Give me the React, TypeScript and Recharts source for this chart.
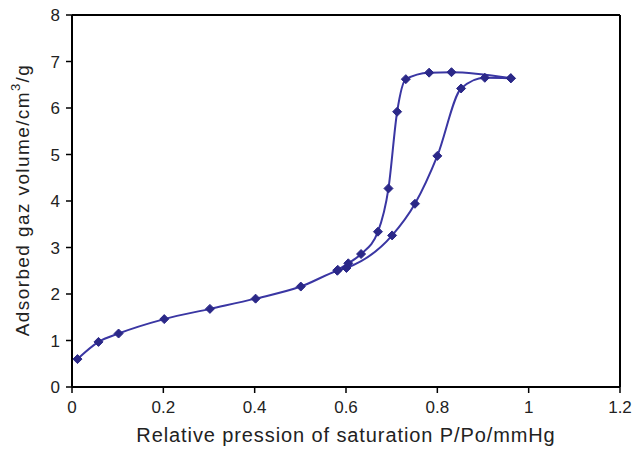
import React from 'react';
import { LineChart, Line, XAxis, YAxis, ReferenceLine } from 'recharts';

const adsorptionP = [0.012, 0.058, 0.102, 0.202, 0.302, 0.402, 0.501, 0.581, 0.601, 0.701, 0.751, 0.8, 0.852, 0.904, 0.961];
const adsorptionV = [0.6, 0.97, 1.15, 1.46, 1.68, 1.9, 2.16, 2.5, 2.56, 3.26, 3.94, 4.97, 6.42, 6.65, 6.64];
const desorptionP = [0.582, 0.605, 0.633, 0.67, 0.693, 0.712, 0.731, 0.782, 0.831, 0.961];
const desorptionV = [2.52, 2.66, 2.86, 3.34, 4.27, 5.92, 6.62, 6.76, 6.77, 6.64];
const xTicks = [0, 0.2, 0.4, 0.6, 0.8, 1, 1.2];
const yTicks = [0, 1, 2, 3, 4, 5, 6, 7, 8];

const adsorption = adsorptionP.map((x, i) => ({ x, y: adsorptionV[i] }));
const desorption = desorptionP.map((x, i) => ({ x, y: desorptionV[i] }));

const LINE = '#3a36a3';
const DOT = '#2b2888';
const FONT = 'Liberation Sans, Arial, sans-serif';

const Diamond = (props: any) => {
  const { cx, cy } = props;
  if (cx == null || cy == null) return null;
  const r = 4.5;
  return (
    <polygon
      points={`${cx},${cy - r} ${cx + r},${cy} ${cx},${cy + r} ${cx - r},${cy}`}
      fill={DOT}
      stroke={DOT}
      strokeWidth={1}
    />
  );
};

const YTitle = () => (
  <text
    x={22}
    y={200}
    transform="rotate(-90 22 200)"
    textAnchor="middle"
    dominantBaseline="central"
    fontFamily={FONT}
    fontSize={19}
    letterSpacing={1.4}
    fill="#222"
  >
    Adsorbed gaz volume/cm
    <tspan dy={-7} fontSize={13}>3</tspan>
    <tspan dy={7} fontSize={19}>/g</tspan>
  </text>
);

const XTitle = () => (
  <text x={346} y={442} textAnchor="middle" fontFamily={FONT} fontSize={20} letterSpacing={0.9} fill="#222">
    Relative pression of saturation P/Po/mmHg
  </text>
);

export default function App() {
  return (
    <div style={{ position: 'absolute', left: 0, top: 0, width: 632, height: 450, background: '#fff' }}>
      <LineChart width={632} height={450} margin={{ top: 15, right: 12, bottom: 0, left: 0 }}>
        <XAxis
          xAxisId="b"
          type="number"
          dataKey="x"
          domain={[0, 1.2]}
          ticks={xTicks}
          allowDataOverflow
          height={63}
          axisLine={{ stroke: '#000', strokeWidth: 2 }}
          tickLine={{ stroke: '#000', strokeWidth: 1.5 }}
          tickSize={6}
          tickMargin={8}
          tick={{ fill: '#222', fontSize: 17, fontFamily: FONT }}
          label={{ content: () => <XTitle /> }}
        />
        <YAxis
          yAxisId="l"
          type="number"
          domain={[0, 8]}
          ticks={yTicks}
          width={72}
          axisLine={{ stroke: '#000', strokeWidth: 2 }}
          tickLine={{ stroke: '#000', strokeWidth: 1.5 }}
          tickSize={6}
          tickMargin={6}
          tick={{ fill: '#222', fontSize: 17, fontFamily: FONT }}
          label={{ content: () => <YTitle /> }}
        />
        <ReferenceLine xAxisId="b" yAxisId="l" y={8} stroke="#000" strokeWidth={2} ifOverflow="visible" />
        <ReferenceLine xAxisId="b" yAxisId="l" x={1.2} stroke="#000" strokeWidth={2} ifOverflow="visible" />
        <Line
          xAxisId="b"
          yAxisId="l"
          data={adsorption}
          dataKey="y"
          type="monotone"
          stroke={LINE}
          strokeWidth={2}
          dot={<Diamond />}
          activeDot={false}
          isAnimationActive={false}
        />
        <Line
          xAxisId="b"
          yAxisId="l"
          data={desorption}
          dataKey="y"
          type="monotone"
          stroke={LINE}
          strokeWidth={2}
          dot={<Diamond />}
          activeDot={false}
          isAnimationActive={false}
        />
      </LineChart>
    </div>
  );
}
